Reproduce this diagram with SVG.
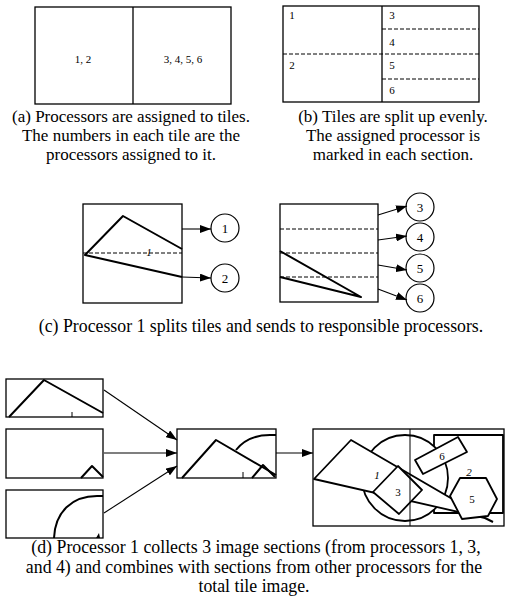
<svg xmlns="http://www.w3.org/2000/svg" width="507" height="609" viewBox="0 0 507 609">
<style>
.box{fill:none;stroke:#000;stroke-width:1.3}
.dash{fill:none;stroke:#000;stroke-width:1;stroke-dasharray:4,2}
.thick{fill:none;stroke:#000;stroke-width:2;stroke-linejoin:round}
.wf{fill:#fff;stroke:#000;stroke-width:1.8;stroke-linejoin:round}
.thin{fill:none;stroke:#000;stroke-width:1}
.arr{fill:none;stroke:#000;stroke-width:1.1;marker-end:url(#ah)}
.cap{font-family:"Liberation Serif","Times New Roman",serif;font-size:17px;text-anchor:middle;fill:#000}
.capw{font-size:17.8px}
.num{font-family:"Liberation Serif","Times New Roman",serif;font-size:11px;text-anchor:middle;fill:#000}
.cnum{font-family:"Liberation Serif","Times New Roman",serif;font-size:13px;text-anchor:middle;fill:#000}
.it{font-family:"Liberation Serif","Times New Roman",serif;font-size:11px;font-style:italic;text-anchor:middle;fill:#000}
.circ{fill:#fff;stroke:#000;stroke-width:1.2}
</style>
<defs>
<marker id="ah" markerWidth="11" markerHeight="8" refX="11" refY="4" orient="auto" markerUnits="userSpaceOnUse"><path d="M0,0 L11,4 L0,8 z" fill="#000"/></marker>
</defs>

<!-- (a) -->
<g id="tileA">
<rect class="box" x="35" y="7" width="196" height="97"/>
<line class="box" x1="133" y1="7" x2="133" y2="104"/>
<text class="num" x="83" y="63">1, 2</text>
<text class="num" x="183" y="63">3, 4, 5, 6</text>
</g>
<g id="captionA">
<text class="cap" x="131" y="122">(a) Processors are assigned to tiles.</text>
<text class="cap" x="131" y="141">The numbers in each tile are the</text>
<text class="cap" x="131" y="160">processors assigned to it.</text>
</g>

<!-- (b) -->
<g id="tileB">
<rect class="box" x="283" y="6" width="196" height="96"/>
<line class="box" x1="382" y1="6" x2="382" y2="102"/>
<line class="dash" x1="283" y1="54" x2="479" y2="54"/>
<line class="dash" x1="382" y1="29" x2="479" y2="29"/>
<line class="dash" x1="382" y1="79" x2="479" y2="79"/>
<text class="num" x="292" y="19">1</text>
<text class="num" x="392" y="19">3</text>
<text class="num" x="392" y="46">4</text>
<text class="num" x="292" y="69">2</text>
<text class="num" x="392" y="69">5</text>
<text class="num" x="392" y="94">6</text>
</g>
<g id="captionB">
<text class="cap" x="393" y="122">(b) Tiles are split up evenly.</text>
<text class="cap" x="393" y="141">The assigned processor is</text>
<text class="cap" x="393" y="160">marked in each section.</text>
</g>

<!-- (c) -->
<g id="splitLeft">
<rect class="box" x="83" y="204" width="99" height="99"/>
<line class="dash" x1="83" y1="253" x2="182" y2="253"/>
<path class="thick" d="M182,249 L123,216 L85,255 L182,277"/>
<text class="it" x="149" y="256" font-size="9">1</text>
</g>
<g id="proc1"><circle class="circ" cx="225" cy="228" r="14"/><text class="cnum" x="225" y="233">1</text></g>
<g id="proc2"><circle class="circ" cx="225" cy="278" r="14"/><text class="cnum" x="225" y="283">2</text></g>

<g id="splitRight">
<rect class="box" x="280" y="204" width="98" height="98"/>
<line class="dash" x1="280" y1="229" x2="378" y2="229"/>
<line class="dash" x1="280" y1="253" x2="378" y2="253"/>
<line class="dash" x1="280" y1="277" x2="378" y2="277"/>
<path class="thick" d="M280,251 L361,297 L280,277"/>
</g>
<g id="proc3"><circle class="circ" cx="420" cy="207" r="14"/><text class="cnum" x="420" y="212">3</text></g>
<g id="proc4"><circle class="circ" cx="420" cy="237" r="14"/><text class="cnum" x="420" y="242">4</text></g>
<g id="proc5"><circle class="circ" cx="420" cy="268" r="14"/><text class="cnum" x="420" y="273">5</text></g>
<g id="proc6"><circle class="circ" cx="420" cy="298" r="14"/><text class="cnum" x="420" y="303">6</text></g>

<g id="captionC">
<text class="cap capw" x="261" y="332">(c) Processor 1 splits tiles and sends to responsible processors.</text>
</g>

<!-- (d) -->
<g id="sec1">
<rect class="box" x="6" y="379" width="97" height="38"/>
<path class="thick" d="M9,417 L44,380 L103,413"/>
<line class="thin" x1="72" y1="412" x2="72" y2="417"/>
</g>
<g id="sec2">
<rect class="box" x="6" y="429" width="97" height="49"/>
<path class="thick" d="M81,478 L92,466 L103,477"/>
</g>
<g id="sec3">
<rect class="box" x="6" y="490" width="97" height="48"/>
<path class="thick" d="M54,538 C55,512 72,496 97,496 L103,496"/>
<path d="M96,538 L99,533 L100,538 z" fill="#000"/>
</g>
<g id="combined">
<rect class="box" x="177" y="429" width="99" height="49"/>
<path class="thick" d="M182,478 L216,440 L276,475"/>
<path class="thick" d="M252,478 L263,465 L275,477"/>
<path class="thick" d="M236,450 C244,440 256,435 270,435 L276,435"/>
<line class="thin" x1="243" y1="472" x2="243" y2="478"/>
</g>
<g id="total">
<rect class="wf" x="434" y="435" width="69" height="78" stroke-width="1.6"/>
<circle class="wf" cx="405" cy="478" r="43" stroke-width="1.4"/>
<polygon class="wf" points="314,479 351,440 485,518"/>
<line class="thick" x1="485" y1="518" x2="493" y2="522"/>
<polygon class="wf" points="398,466 422,490 399,514 373,492"/>
<polygon class="wf" points="415,460 458,437 467,452 423,474"/>
<polygon class="wf" points="460,478 486,478 497,499 488,516 462,519 450,496"/>
<text class="it" x="377" y="479">1</text>
<text class="it" x="469" y="476" font-size="10">2</text>
<text class="num" x="398" y="496" font-size="12">3</text>
<text class="num" x="442" y="460" font-size="12">6</text>
<text class="num" x="472" y="503" font-size="12">5</text>
<line class="thin" x1="410" y1="429" x2="410" y2="526"/>
<rect class="box" x="313" y="429" width="191" height="97"/>
</g>

<g id="connectors">
<line class="arr" x1="182" y1="229" x2="211" y2="229"/>
<line class="arr" x1="182" y1="277" x2="211" y2="278"/>
<line class="arr" x1="378" y1="215" x2="407" y2="206"/>
<line class="arr" x1="378" y1="240" x2="407" y2="236"/>
<line class="arr" x1="378" y1="265" x2="407" y2="270"/>
<line class="arr" x1="378" y1="289" x2="407" y2="300"/>
<line class="arr" x1="104" y1="390" x2="177" y2="440"/>
<line class="arr" x1="104" y1="453" x2="177" y2="453"/>
<line class="arr" x1="104" y1="513" x2="177" y2="466"/>
<line class="arr" x1="276" y1="453" x2="313" y2="453"/>
</g>

<g id="captionD">
<text class="cap capw" x="256" y="553">(d) Processor 1 collects 3 image sections (from processors 1, 3,</text>
<text class="cap capw" x="254" y="573">and 4) and combines with sections from other processors for the</text>
<text class="cap capw" x="254" y="592">total tile image.</text>
</g>
</svg>
